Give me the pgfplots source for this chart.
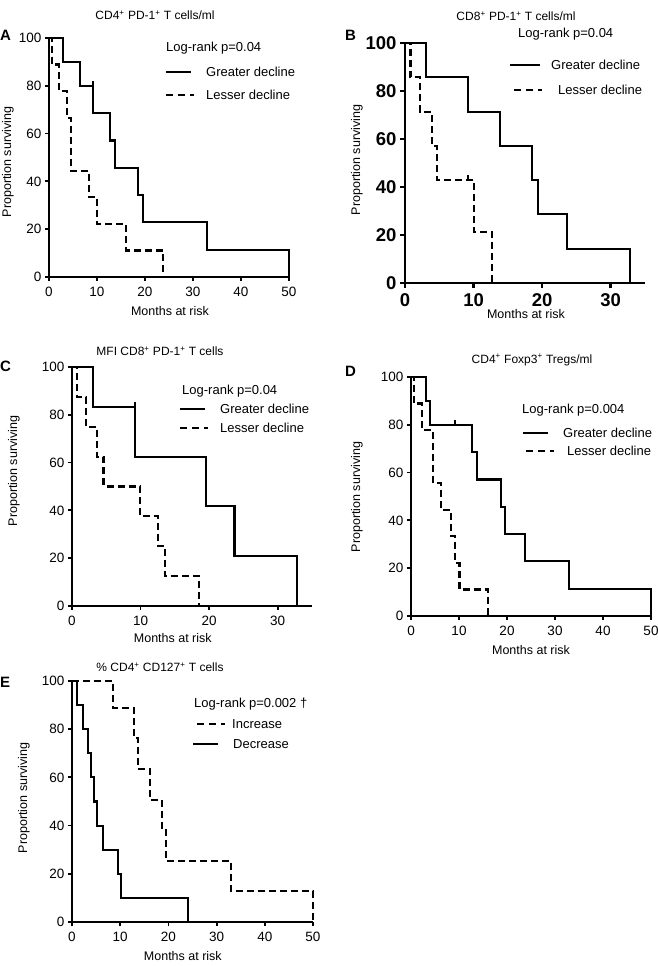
\documentclass[border=0pt]{standalone}
\usepackage{fontspec}
\setmainfont{Liberation Sans}
\usepackage{pgfplots}
\pgfplotsset{compat=1.18}
\pgfplotsset{
 km/.style={
  scale only axis, anchor=south west,
  axis lines=left, axis line style={-, line width=1.8pt},
  tick align=outside, major tick length=4pt,
  every tick/.style={black, line width=1.8pt},
  ymin=0, ymax=100, ytick={0,20,40,60,80,100}, xmin=0,
  /pgf/number format/assume math mode=true,
  tick label style={font=\fontsize{13.5}{14}\selectfont},
  xticklabel style={yshift=-3pt},
  label style={font=\fontsize{12.5}{13}\selectfont},
  xlabel={Months at risk}, ylabel={Proportion surviving},
  clip=false,
 },
 sol/.style={const plot, no marks, black, solid, line width=2.1pt},
 dsh/.style={const plot, no marks, black, line width=2.1pt, dash pattern=on 7pt off 4pt},
 cens/.style={sharp plot, no marks, black, solid, line width=2.1pt},
}
\newcommand{\ttl}[1]{\fontsize{12}{13}\selectfont #1}
\newcommand{\lgf}{\fontsize{13}{14}\selectfont}
\newcommand{\sps}{\textsuperscript{+}}
\begin{document}
\begin{tikzpicture}[x=1pt,y=1pt]
\useasboundingbox (0,0) rectangle (658,966);
% ---------------- A
\begin{axis}[km, at={(49pt,689pt)}, width=240pt, height=239pt,
  xmax=50, xtick={0,10,20,30,40,50},
  ylabel style={at={(axis description cs:-0.171,0.481)}, anchor=center},
  xlabel style={at={(axis description cs:0.504,-0.142)}, anchor=center}]
\addplot[dsh] coordinates {(0,100)(0.7,88.9)(2.1,77.8)(3.8,66.7)(4.5,44.4)(8.4,33.3)(10,22.2)(16,11.1)(23.8,0)};
\addplot[sol] coordinates {(0,100)(2.9,90)(6.4,80)(9.2,68.6)(12.7,57.1)(13.7,45.7)(18.6,34.3)(19.6,22.9)(33,11.4)(50,0)};
\addplot[cens] coordinates {(9.2,80)(9.2,82)};
\end{axis}
% ---------------- B
\begin{axis}[km, at={(405pt,683pt)}, width=240pt, height=240pt,
  xmax=35, xtick={0,10,20,30},
  axis line style={-, line width=2.6pt}, every tick/.style={black, line width=2.6pt},
  major tick length=5pt,
  tick label style={font=\bfseries\fontsize{18.5}{19}\selectfont},
  xticklabel style={yshift=1pt},
  ylabel style={at={(axis description cs:-0.2,0.5125)}, anchor=center},
  xlabel style={at={(axis description cs:0.504,-0.13)}, anchor=center}]
\addplot[dsh] coordinates {(0,100)(0.8,85.7)(2.2,71.4)(3.9,57.1)(4.7,42.9)(10,21.4)(12.7,0)};
\addplot[sol] coordinates {(0,100)(3.1,85.7)(9.2,71.4)(13.8,57.1)(18.5,42.9)(19.4,28.6)(23.6,14.3)(32.8,0)};
\addplot[cens] coordinates {(9.2,42.9)(9.2,45)};
\end{axis}
% ---------------- C
\begin{axis}[km, at={(72pt,360pt)}, width=240pt, height=239pt,
  xmax=35, xtick={0,10,20,30},
  ylabel style={at={(axis description cs:-0.242,0.565)}, anchor=center},
  xlabel style={at={(axis description cs:0.42,-0.134)}, anchor=center}]
\addplot[dsh] coordinates {(0,100)(0.7,87.5)(2.1,75)(3.7,62.5)(4.6,50)(9.9,37.5)(12.6,25)(13.6,12.5)(18.5,0)};
\addplot[sol] coordinates {(0,100)(3,83.3)(9.2,62.5)(19.5,41.7)(23.7,20.8)(32.8,0)};
\addplot[cens] coordinates {(9.2,83.3)(9.2,85.3)};
\end{axis}
% ---------------- D
\begin{axis}[km, at={(411pt,350pt)}, width=240pt, height=239pt,
  xmax=50, xtick={0,10,20,30,40,50},
  ylabel style={at={(axis description cs:-0.225,0.498)}, anchor=center},
  xlabel style={at={(axis description cs:0.5,-0.142)}, anchor=center}]
\addplot[dsh] coordinates {(0,100)(0.7,88.9)(2.3,77.8)(4.6,55.6)(6.3,44.4)(8.3,33.3)(9.2,22.2)(10.1,11.1)(16,0)};
\addplot[sol] coordinates {(0,100)(3.2,90)(3.9,80)(12.7,68.6)(13.75,57.1)(18.75,45.7)(19.65,34.3)(23.8,22.9)(33,11.4)(50,0)};
\addplot[cens] coordinates {(9.2,80)(9.2,82)};
\end{axis}
% ---------------- E
\begin{axis}[km, at={(72pt,44pt)}, width=241pt, height=241pt,
  xmax=50, xtick={0,10,20,30,40,50},
  ylabel style={at={(axis description cs:-0.2,0.515)}, anchor=center},
  xlabel style={at={(axis description cs:0.46,-0.141)}, anchor=center}]
\addplot[dsh] coordinates {(0,100)(8.5,88.9)(12.8,76.2)(13.7,63.5)(16.1,50.8)(18.7,38.1)(19.5,25.4)(33,12.7)(50,0)};
\addplot[sol] coordinates {(0,100)(1,90)(2.3,80)(3.3,70)(4,60)(4.5,50)(5.1,40)(6.4,30)(9.5,20)(10.2,10)(24,0)};
\end{axis}
% ---------------- annotations
\begin{scope}[every node/.style={inner sep=0pt}]
% A
\node at (155,951) {\ttl{CD4\sps{} PD-1\sps{} T cells/ml}};
\node[anchor=west] at (0,931) {\bfseries\fontsize{15}{15}\selectfont A};
\node[anchor=west] at (166,918) {\lgf Log-rank p=0.04};
\draw[line width=2pt] (166,894)--(191,894);
\node[anchor=west] at (206,894) {\lgf Greater decline};
\draw[line width=2pt, dash pattern=on 7pt off 5pt] (166,871)--(194,871);
\node[anchor=west] at (206,871) {\lgf Lesser decline};
% B
\node at (516,950) {\ttl{CD8\sps{} PD-1\sps{} T cells/ml}};
\node[anchor=west] at (345,931) {\bfseries\fontsize{15}{15}\selectfont B};
\node[anchor=west] at (518,932) {\lgf Log-rank p=0.04};
\draw[line width=2pt] (510,901)--(540,901);
\node[anchor=west] at (551,901) {\lgf Greater decline};
\draw[line width=2pt, dash pattern=on 7pt off 5pt] (514,876)--(542,876);
\node[anchor=west] at (558,876) {\lgf Lesser decline};
% C
\node at (160,615) {\ttl{MFI CD8\sps{} PD-1\sps{} T cells}};
\node[anchor=west] at (0,600) {\bfseries\fontsize{15}{15}\selectfont C};
\node[anchor=west] at (182,575) {\lgf Log-rank p=0.04};
\draw[line width=2pt] (180,557)--(205,557);
\node[anchor=west] at (220,557) {\lgf Greater decline};
\draw[line width=2pt, dash pattern=on 7pt off 5pt] (180,538)--(208,538);
\node[anchor=west] at (220,538) {\lgf Lesser decline};
% D
\node at (532,606) {\ttl{CD4\sps{} Foxp3\sps{} Tregs/ml}};
\node[anchor=west] at (345,595) {\bfseries\fontsize{15}{15}\selectfont D};
\node[anchor=west] at (522,556) {\lgf Log-rank p=0.004};
\draw[line width=2pt] (523,533)--(548,533);
\node[anchor=west] at (563,533) {\lgf Greater decline};
\draw[line width=2pt, dash pattern=on 7pt off 5pt] (526,515)--(554,515);
\node[anchor=west] at (567,515) {\lgf Lesser decline};
% E
\node at (160,299) {\ttl{\% CD4\sps{} CD127\sps{} T cells}};
\node[anchor=west] at (0,284) {\bfseries\fontsize{15}{15}\selectfont E};
\node[anchor=west] at (194,262) {\lgf Log-rank p=0.002 \textdagger};
\draw[line width=2pt, dash pattern=on 7pt off 5pt] (197,242)--(225,242);
\node[anchor=west] at (232,242) {\lgf Increase};
\draw[line width=2pt] (193,222)--(218,222);
\node[anchor=west] at (233,222) {\lgf Decrease};
\end{scope}
\end{tikzpicture}
\end{document}
